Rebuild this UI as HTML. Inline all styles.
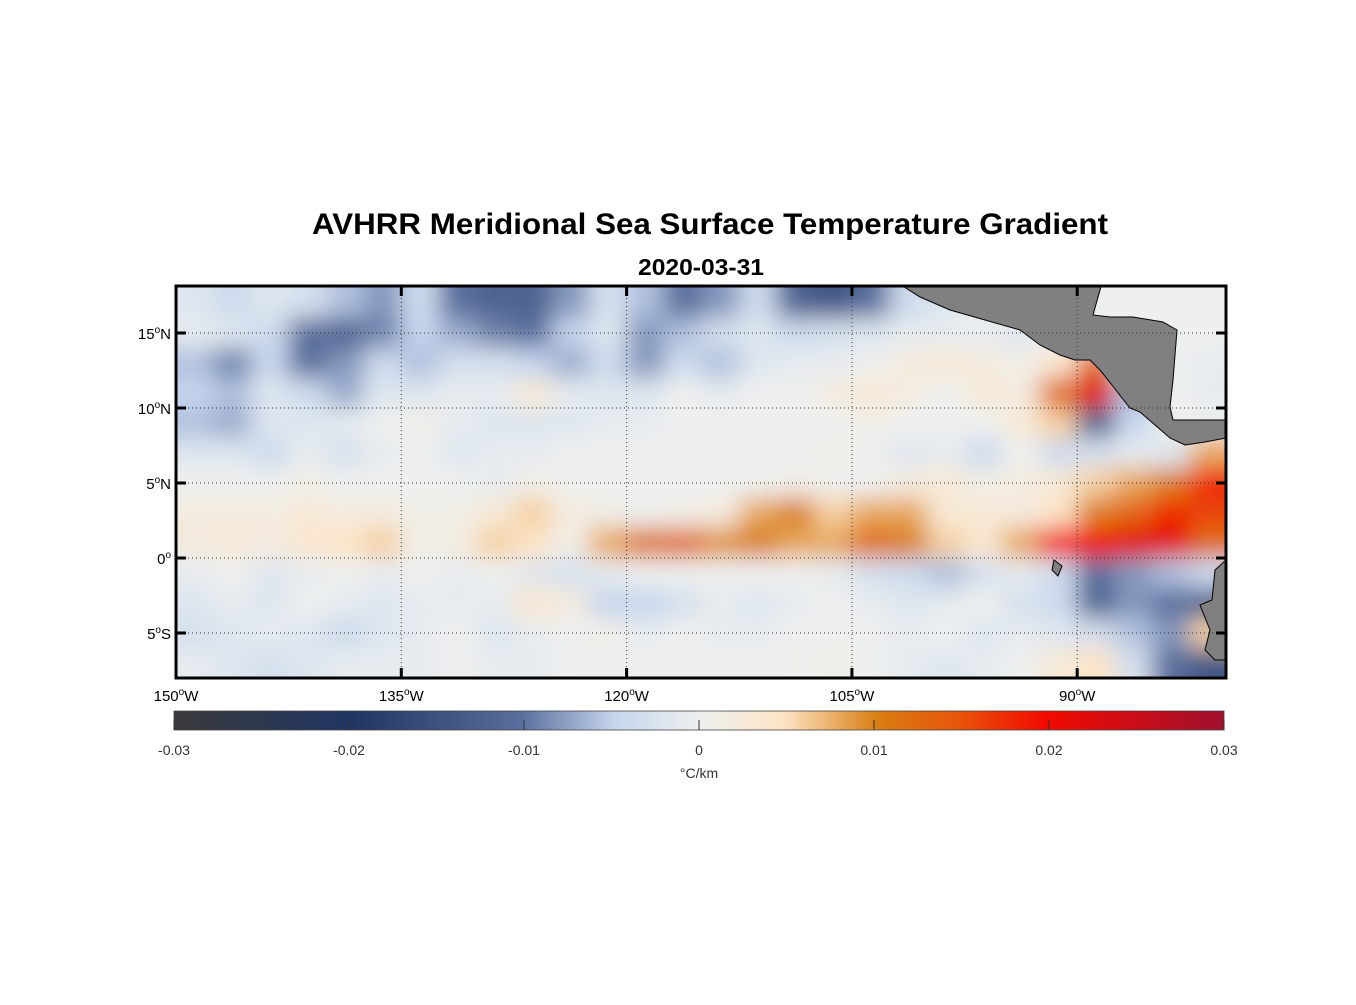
<!DOCTYPE html>
<html><head><meta charset="utf-8"><style>
body{margin:0;background:#fff;font-family:"Liberation Sans",sans-serif}
</style></head><body>
<svg id="chart" width="1356" height="1000" xmlns="http://www.w3.org/2000/svg">
<defs>
<clipPath id="mapclip"><rect x="176" y="286" width="1050" height="392"/></clipPath>
<filter id="blur" x="-10%" y="-10%" width="120%" height="120%"><feGaussianBlur stdDeviation="12"/></filter>
<linearGradient id="cbgrad" x1="0" x2="1" y1="0" y2="0">
<stop offset="0" stop-color="#3a3a3c"/><stop offset="0.17" stop-color="#1f3563"/><stop offset="0.33" stop-color="#586e9c"/><stop offset="0.42" stop-color="#c6d6ee"/><stop offset="0.5" stop-color="#eef0ef"/><stop offset="0.58" stop-color="#fde4c6"/><stop offset="0.67" stop-color="#d97f12"/><stop offset="0.75" stop-color="#e8520a"/><stop offset="0.83" stop-color="#f20a00"/><stop offset="1" stop-color="#a0102f"/>
</linearGradient>
</defs>
<text x="710" y="234" text-anchor="middle" font-size="30" font-weight="bold" textLength="796" lengthAdjust="spacingAndGlyphs">AVHRR Meridional Sea Surface Temperature Gradient</text>
<text x="701" y="275" text-anchor="middle" font-size="23" font-weight="bold" textLength="126" lengthAdjust="spacingAndGlyphs">2020-03-31</text>
<g clip-path="url(#mapclip)"><rect x="176" y="286" width="1050" height="392" fill="#eef0ef"/><g id="cells" filter="url(#blur)"></g><g id="land"></g></g>
<g id="grid"></g>
<rect x="176" y="286" width="1050" height="392" fill="none" stroke="#000" stroke-width="3"/>
<g id="axes"></g>
<rect x="174" y="711" width="1050" height="19" fill="url(#cbgrad)" stroke="#444" stroke-width="0.8"/>
<g id="cbticks"></g>
<text x="699" y="778" text-anchor="middle" font-size="14" fill="#333">°C/km</text>
</svg>
<script>
const lonStart=-150, lonStep=2.5, latTop=18, latStep=2;
const rows=[
[-2,-4,-2,-3,-6,-8,-4,-10,-12,-12,-8,-3,-6,-10,-8,-4,-12,-14,-10,-4,-2,0,0,0,0,0,0,0],
[-1,-2,-4,-10,-12,-9,-5,-7,-9,-10,-5,-2,-8,-6,-3,-2,-4,-3,-2,-1,-1,-1,-2,0,0,0,0,0],
[-6,-9,-5,-10,-8,-4,-6,-3,-3,-5,-7,-4,-8,-4,-6,-2,-1,-1,0,2,3,2,1,4,12,0,0,-1],
[-5,-6,-2,-4,-7,-2,-2,-1,-1,3,-1,-2,-2,0,-1,0,0,2,3,2,0,3,2,12,22,-6,0,-1],
[-6,-7,-2,-2,-1,0,1,-1,-2,-2,-2,-1,-1,0,0,0,0,0,1,0,0,0,3,6,-12,-5,0,0],
[-2,-2,-4,-1,-3,-1,0,-2,-1,-1,0,0,0,0,0,0,0,1,0,-2,-1,-4,0,-4,-3,-1,-2,8],
[0,0,0,1,0,0,0,0,-1,1,0,0,0,0,0,0,1,0,0,2,3,1,2,3,6,8,10,18],
[2,2,2,3,2,2,1,1,3,6,2,1,0,1,2,8,10,6,8,8,3,3,2,5,10,13,18,16],
[2,3,2,4,5,6,1,2,6,5,1,8,11,12,9,10,8,8,12,10,6,4,8,20,20,22,22,12],
[-1,0,-2,-1,0,-1,0,-1,0,-2,-3,-1,0,0,0,0,0,-1,-3,-4,-6,-3,-1,-4,-10,-8,-6,-4],
[-2,-1,-2,0,-1,-2,-1,-1,-1,4,2,-5,-5,-3,-1,-2,-1,0,-1,-2,-1,0,-3,-4,-12,-8,-10,-12],
[-3,-2,-1,-2,-4,-2,-1,0,-2,-1,0,1,-1,0,-1,-1,0,0,0,-1,0,-2,-1,-2,-3,-6,-8,6],
[-1,-2,-3,-2,-1,-1,-1,0,-1,-1,0,0,0,0,0,0,0,1,0,-1,-2,-1,0,3,5,-3,-10,-14]
];
const lonTicks=[-150,-135,-120,-105,-90];
const lonLabels=["150","135","120","105","90"];
const latTicks=[15,10,5,0,-5];
const latLabels=["15","10","5","0","5"];
const latSuffix=["N","N","N","","S"];
const cbTicks=[-0.03,-0.02,-0.01,0,0.01,0.02,0.03];
const cbLabels=["-0.03","-0.02","-0.01","0","0.01","0.02","0.03"];
const X=lon=>176+(lon+150)*15.02;
const Y=lat=>558-lat*15;
const CB=v=>174+(v+0.03)/0.06*1050;
const stops=[[-30,[58,58,60]],[-20,[31,53,99]],[-10,[88,110,156]],[-5,[198,214,238]],[0,[238,240,239]],[5,[253,228,198]],[10,[217,127,18]],[15,[232,82,10]],[20,[242,10,0]],[30,[160,16,47]]];
function col(v){v=Math.max(-30,Math.min(30,v));for(let i=0;i<stops.length-1;i++){const[a,ca]=stops[i],[b,cb]=stops[i+1];if(v<=b){const t=(v-a)/(b-a);return`rgb(${ca.map((c,k)=>Math.round(c+(cb[k]-c)*t)).join(',')})`;}}}
const NS="http://www.w3.org/2000/svg";
function mk(t,a,p){const e=document.createElementNS(NS,t);for(const k in a)e.setAttribute(k,a[k]);p.appendChild(e);return e;}
const cells=document.getElementById('cells');
rows.forEach((r,i)=>r.forEach((v,j)=>{
 let x0=X(lonStart+j*lonStep),x1=X(lonStart+(j+1)*lonStep),y0=Y(latTop-i*latStep),y1=Y(latTop-(i+1)*latStep);
 if(j===0)x0-=40;if(j===r.length-1)x1+=40;if(i===0)y0-=40;if(i===rows.length-1)y1+=40;
 const e=mk('rect',{x:x0,y:y0,width:x1-x0+0.5,height:y1-y0+0.5,fill:col(v)},cells);
 
 
}));
const land=document.getElementById('land');
const l1=mk('polygon',{points:"898,283 1102,283 1093,315 1110,317 1133,317 1163,322 1177,330 1173,380 1170,407 1173,420 1226,420 1226,438 1205,442 1185,445 1170,438 1155,425 1140,412 1130,408 1122,398 1112,385 1100,370 1090,360 1075,360 1060,355 1040,345 1020,330 985,320 950,310 920,297",fill:"#808080",stroke:"#000","stroke-width":1},land);


const l2=mk('polygon',{points:"1226,560 1215,570 1212,600 1200,605 1210,630 1205,650 1215,660 1226,660",fill:"#808080",stroke:"#000","stroke-width":1},land);


const l3=mk('polygon',{points:"1054,560 1062,566 1058,576 1052,570",fill:"#808080",stroke:"#000","stroke-width":1},land);


const g=document.getElementById('grid'),ax=document.getElementById('axes');
lonTicks.forEach((lon,i)=>{const x=X(lon);
 const gl=mk('line',{x1:x,x2:x,y1:286,y2:678,stroke:"#333","stroke-width":1,"stroke-dasharray":"1,3"},g);
 
 
 mk('line',{x1:x,x2:x,y1:286,y2:296,stroke:"#000","stroke-width":3},ax);
 mk('line',{x1:x,x2:x,y1:668,y2:678,stroke:"#000","stroke-width":3},ax);
 const t=mk('text',{x:x,y:701,"text-anchor":"middle","font-size":15},ax);
 t.innerHTML=lonLabels[i]+'<tspan dy="-6" font-size="10">o</tspan><tspan dy="6">W</tspan>';
 
 
});
latTicks.forEach((lat,i)=>{const y=Y(lat);
 const gl=mk('line',{x1:176,x2:1226,y1:y,y2:y,stroke:"#333","stroke-width":1,"stroke-dasharray":"1,3"},g);
 
 
 mk('line',{x1:176,x2:186,y1:y,y2:y,stroke:"#000","stroke-width":3},ax);
 mk('line',{x1:1216,x2:1226,y1:y,y2:y,stroke:"#000","stroke-width":3},ax);
 const t=mk('text',{x:171,y:y+6,"text-anchor":"end","font-size":15},ax);
 t.innerHTML=latLabels[i]+'<tspan dy="-6" font-size="10">o</tspan><tspan dy="6">'+latSuffix[i]+'</tspan>';
 
 
});
const cbt=document.getElementById('cbticks');
cbTicks.forEach((v,i)=>{const x=CB(v);
 mk('line',{x1:x,x2:x,y1:720,y2:730,stroke:"#333","stroke-width":1},cbt);
 const t=mk('text',{x:x,y:755,"text-anchor":"middle","font-size":14,fill:"#333"},cbt);
 t.textContent=cbLabels[i];
 
 
});
</script>
</body></html>
